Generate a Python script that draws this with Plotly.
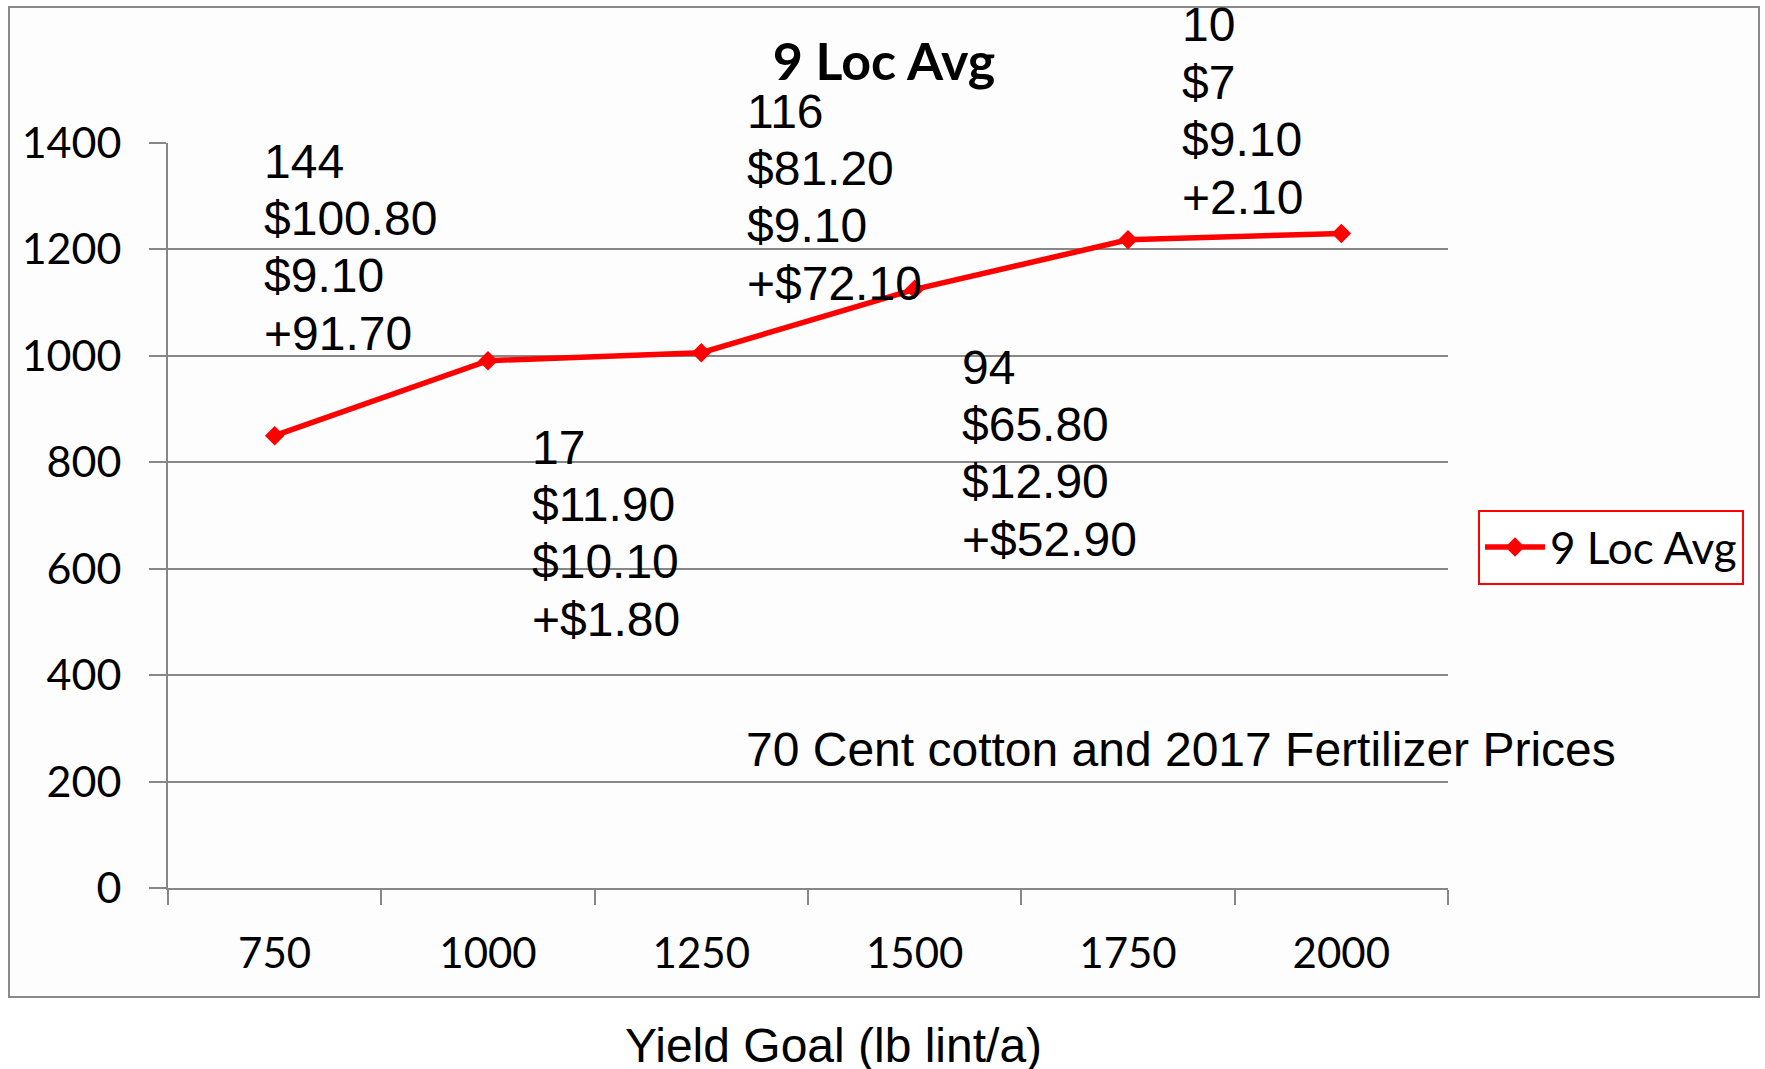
"""9 Loc Avg yield-goal chart (70 cent cotton, 2017 fertilizer prices)."""

import plotly.graph_objects as go

# data
yield_goal = ["750", "1000", "1250", "1500", "1750", "2000"]
loc_avg = [850, 991, 1006, 1125, 1218, 1230]
y_ticks = [0, 200, 400, 600, 800, 1000, 1200, 1400]

label_blocks = [
    ["144", "$100.80", "$9.10", "+91.70"],
    ["17", "$11.90", "$10.10", "+$1.80"],
    ["116", "$81.20", "$9.10", "+$72.10"],
    ["94", "$65.80", "$12.90", "+$52.90"],
    ["10", "$7", "$9.10", "+2.10"],
]
note_text = "70 Cent cotton and 2017 Fertilizer Prices"
series_name = "9 Loc Avg"
x_title = "Yield Goal (lb lint/a)"

# layout (pixels on the 1765x1069 page)
W, H = 1765, 1069
L, R, T, B = 168, 1448, 143, 888
block_pos = [(262, 161), (530, 447), (745, 111), (960, 367), (1180, 25)]
line_gap = 57.4

ARIAL = "Liberation Sans, Arial, sans-serif"
CALIBRI = "Lato, Calibri, sans-serif"
GRID = "#878787"
RED = "#ff0000"


def px(x):
    return (x - L) / (R - L)


def py(y):
    return (B - y) / (B - T)


fig = go.Figure()
fig.add_trace(
    go.Scatter(
        x=yield_goal,
        y=loc_avg,
        mode="lines+markers",
        name=series_name,
        line={"color": RED, "width": 5.5},
        marker={"symbol": "diamond", "size": 15, "color": RED},
    )
)

annotations = []
for lines, (x0, y0) in zip(label_blocks, block_pos):
    for i, text in enumerate(lines):
        annotations.append(
            dict(
                text=text,
                xref="paper",
                yref="paper",
                x=px(x0),
                y=py(y0 + i * line_gap),
                xanchor="left",
                yanchor="middle",
                showarrow=False,
                font={"family": ARIAL, "size": 48, "color": "black"},
            )
        )
annotations.append(
    dict(
        text=note_text,
        xref="paper",
        yref="paper",
        x=px(744),
        y=py(749),
        xanchor="left",
        yanchor="middle",
        showarrow=False,
        font={"family": ARIAL, "size": 48, "color": "black"},
    )
)
annotations.append(
    dict(
        text=x_title,
        xref="paper",
        yref="paper",
        x=px(833),
        y=py(1045),
        xanchor="center",
        yanchor="middle",
        showarrow=False,
        font={"family": ARIAL, "size": 48, "color": "black"},
    )
)

fig.update_layout(
    width=W,
    height=H,
    margin={"l": L, "r": W - R, "t": T, "b": H - B, "pad": 0},
    paper_bgcolor="white",
    plot_bgcolor="rgba(0,0,0,0)",
    title={
        "text": "<b>9 Loc Avg</b>",
        "xref": "container",
        "yref": "container",
        "x": 884 / W,
        "y": 1 - 62 / H,
        "xanchor": "center",
        "yanchor": "middle",
        "font": {"family": CALIBRI, "size": 52, "color": "black"},
    },
    xaxis={
        "type": "category",
        "tickson": "boundaries",
        "ticks": "outside",
        "ticklen": 15,
        "tickwidth": 2,
        "tickcolor": GRID,
        "showgrid": False,
        "showline": True,
        "linecolor": GRID,
        "linewidth": 2,
        "tickfont": {"family": CALIBRI, "size": 42, "color": "black"},
        "ticklabelstandoff": 28,
        "range": [-0.5, 5.5],
        "fixedrange": True,
    },
    yaxis={
        "range": [0, 1400],
        "tickvals": y_ticks,
        "ticks": "outside",
        "ticklen": 17,
        "tickwidth": 2,
        "tickcolor": GRID,
        "showgrid": True,
        "gridcolor": GRID,
        "gridwidth": 2,
        "zeroline": False,
        "showline": True,
        "linecolor": GRID,
        "linewidth": 2,
        "tickfont": {"family": CALIBRI, "size": 43, "color": "black"},
        "ticklabelstandoff": 19,
        "fixedrange": True,
    },
    legend={
        "x": px(1478),
        "y": py(510),
        "xanchor": "left",
        "yanchor": "top",
        "bordercolor": RED,
        "borderwidth": 2,
        "bgcolor": "white",
        "itemwidth": 60,
        "font": {"family": CALIBRI, "size": 44, "color": "black"},
    },
    showlegend=True,
    annotations=annotations,
    shapes=[
        dict(
            type="rect",
            xref="paper",
            yref="paper",
            x0=px(9),
            x1=px(1759),
            y0=py(997),
            y1=py(7),
            line={"color": "#8a8a8a", "width": 2},
            fillcolor="#fdfdfd",
            layer="below",
        )
    ],
)

fig.write_html(
    "out.html",
    config={"displayModeBar": False},
    post_script="document.body.style.margin='0';",
)
